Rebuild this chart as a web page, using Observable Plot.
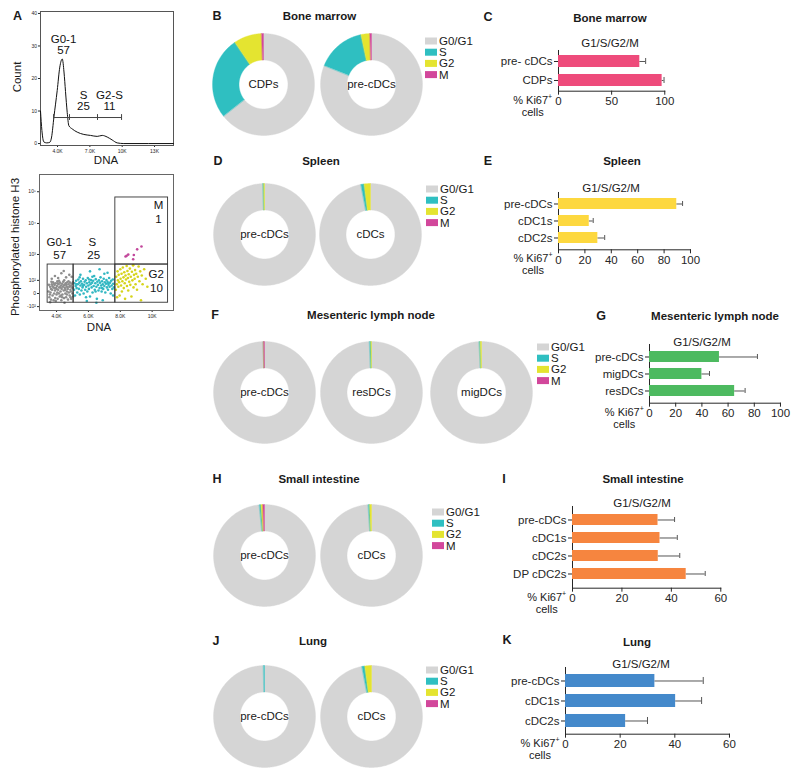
<!DOCTYPE html>
<html><head><meta charset="utf-8">
<script src="https://cdn.jsdelivr.net/npm/d3@7"></script>
<script src="https://cdn.jsdelivr.net/npm/@observablehq/plot@0.6"></script>
<style>
body{margin:0;background:#fff;}
#root{position:relative;width:800px;height:776px;overflow:hidden;background:#fff;font-family:"Liberation Sans",Arial,Helvetica,sans-serif;}
.p{position:absolute;}
</style></head><body><div id="root"></div>
<script>
// ---------------- DATA ----------------
// Panel A (top): DNA histogram
const histDNA   = [2.42, 2.55, 2.73, 3.0, 3.29, 3.45, 3.66, 3.97, 4.21, 4.44, 4.6, 4.74, 4.9, 5.05, 5.36, 5.83, 6.44, 7.06, 7.68, 8.15, 8.61, 9.07, 9.54, 10.15, 14.76];
const histCount = [10, 4, 0.5, 0.2, 0.4, 2, 8, 16.3, 23.5, 26, 22, 16, 9.5, 5.5, 4.5, 3.5, 2.8, 2.5, 2.2, 2.5, 2, 1.1, 0.2, 0, 0];
const histGateNames = ["G0-1","S","G2-S"];
const histGatePct = ["57","25","11"];
const histGateFrom = [3.63, 5.11, 7.71];
const histGateTo   = [5.11, 7.71, 9.94];
const histGateLevel = 8;
const histLabelX = [4.56, 6.41, 8.82];
const histNameY = [32, 14.8, 14.8];
const histPctY = [28.6, 11.4, 11.4];
const histXTicks = [4, 7, 10, 13];
const histXTickLabels = ["4.0K","7.0K","10K","13K"];
const histYTicks = [0, 10, 20, 30, 40];

// Panel A (bottom): DNA vs phosphorylated histone H3
const g01Cells = [[3.5,10],[3.55,-20],[3.6,40],[3.62,5],[3.65,-35],[3.7,60],[3.72,20],[3.75,-10],[3.78,80],[3.8,35],[3.82,-40],[3.85,0],[3.88,55],[3.9,15],[3.92,-25],[3.95,70],[3.97,30],[4.0,-5],[4.02,45],[4.05,90],[4.07,-30],[4.1,20],[4.12,60],[4.15,0],[4.17,35],[4.2,-15],[4.22,75],[4.25,10],[4.27,50],[4.3,-40],[4.32,25],[4.35,65],[4.37,-5],[4.4,40],[4.42,85],[4.45,15],[4.47,-25],[4.5,55],[4.52,30],[4.55,0],[4.57,70],[4.6,-20],[4.62,45],[4.65,10],[4.67,80],[4.7,25],[4.72,-35],[4.75,60],[4.77,5],[4.8,40],[4.82,-10],[4.85,75],[4.87,20],[4.9,50],[4.92,-30],[4.95,35],[4.97,65],[5.0,0],[5.02,30],[5.04,-15],[3.9,160],[4.3,210],[4.6,140],[4.1,130],[4.8,180],[3.7,120],[4.45,260],[4.95,150],[3.6,-55],[4.5,-60],[3.65,25],[3.85,65],[4.05,5],[4.25,35],[4.45,50],[4.65,-5],[4.85,45],[4.15,95],[4.35,-20],[4.55,20],[4.75,90],[3.95,-45],[4.0,25],[4.6,60],[4.9,10],[3.52,55],[3.58,-5],[3.68,85],[3.74,45],[3.87,30],[4.08,70],[4.28,-10],[4.48,100],[4.68,35],[4.88,-20],[5.03,80]];
const sCells = [[5.1,20],[5.13,70],[5.16,-10],[5.2,45],[5.23,95],[5.26,30],[5.3,5],[5.33,60],[5.36,110],[5.4,25],[5.43,75],[5.46,-5],[5.5,50],[5.53,90],[5.56,15],[5.6,65],[5.63,35],[5.66,120],[5.7,0],[5.73,55],[5.76,85],[5.8,20],[5.83,100],[5.86,40],[5.9,70],[5.93,10],[5.96,130],[6.0,50],[6.03,25],[6.06,80],[6.1,-15],[6.13,60],[6.16,105],[6.2,35],[6.23,75],[6.26,5],[6.3,95],[6.33,45],[6.36,160],[6.4,20],[6.43,70],[6.46,115],[6.5,40],[6.53,-30],[6.56,85],[6.6,55],[6.63,15],[6.66,100],[6.7,30],[6.73,75],[6.76,140],[6.8,50],[6.83,10],[6.86,90],[6.9,60],[6.93,25],[6.96,120],[7.0,45],[7.03,80],[7.06,5],[7.1,65],[7.13,105],[7.16,35],[7.2,85],[7.23,20],[7.26,55],[7.3,130],[7.33,40],[7.36,75],[7.4,0],[7.43,95],[7.46,50],[7.5,25],[7.53,110],[7.56,65],[7.6,35],[6.1,250],[6.7,300],[7.2,220],[5.9,-45],[6.5,-60],[7.0,200],[5.5,180],[6.9,-40],[5.25,60],[5.65,45],[6.05,110],[6.45,10],[6.85,30],[7.25,70],[7.55,-10],[5.45,140],[5.85,-20],[6.25,150]];
const g2Cells = [[7.72,20],[7.75,150],[7.78,60],[7.8,-20],[7.83,250],[7.85,100],[7.88,40],[7.9,180],[7.93,80],[7.96,-10],[8.0,300],[8.02,120],[8.05,50],[8.08,200],[8.1,10],[8.13,90],[8.16,350],[8.2,140],[8.22,30],[8.25,230],[8.28,70],[8.3,-30],[8.33,170],[8.36,110],[8.4,400],[8.42,45],[8.45,260],[8.48,130],[8.5,15],[8.53,190],[8.56,85],[8.6,320],[8.63,55],[8.66,150],[8.7,-15],[8.73,240],[8.76,100],[8.8,420],[8.83,35],[8.86,180],[8.9,120],[8.93,280],[8.96,60],[9.0,200],[9.05,20],[9.1,150],[9.15,380],[9.2,90],[9.25,250],[9.3,-40],[9.35,170],[9.4,60],[9.5,300],[9.6,120],[9.7,40],[8.81,430]];
const mCells = [[8.33,860],[8.5,990],[8.85,966],[9.06,1480],[9.33,1840],[8.81,690],[8.4,900]];
const scatterGates = [
  {name:"G0-1", x1:3.44, x2:5.07, y1:-60, y2:450},
  {name:"S",    x1:5.07, x2:7.69, y1:-60, y2:450},
  {name:"G2",   x1:7.69, x2:11.0, y1:-60, y2:450},
  {name:"M",    x1:7.69, x2:11.0, y1:450, y2:66000}
];
const scatterLabels = ["G0-1","57","S","25","M","1","G2","10"];
const scatterLabelX = [4.17, 4.2, 6.24, 6.33, 10.4, 10.4, 10.25, 10.27];
const scatterLabelY = [2470, 927, 2470, 927, 37000, 13100, 181, 32];
const scatterXTicks = [4, 6, 8, 10];
const scatterXTickLabels = ["4.0K","6.0K","8.0K","10K"];
const scatterYTicks = [-100, 0, 100, 1000, 10000, 100000];
const scatterYTickLabels = ["-10²","0","10²","10³","10⁴","10⁵"];

// Donuts: cell-cycle phase percentages
const phases = ["G0/G1","S","G2","M"];
const bmCells = ["CDPs","pre-cDCs"];
const bmPhaseValues = [[64.4,26.1,8.9,0.6],[81.1,15.6,2.8,0.5]];
const spleenCells = ["pre-cDCs","cDCs"];
const spleenPhaseValues = [[99.5,0.25,0.25,0],[97.0,1.0,2.0,0]];
const mlnCells = ["pre-cDCs","resDCs","migDCs"];
const mlnPhaseValues = [[99.65,0.03,0.02,0.3],[99.4,0.4,0.2,0],[99.3,0.3,0.4,0]];
const siCells = ["pre-cDCs","cDCs"];
const siPhaseValues = [[98.4,0.5,0.6,0.5],[99.0,0.4,0.6,0]];
const lungCells = ["pre-cDCs","cDCs"];
const lungPhaseValues = [[99.7,0.3,0,0],[97.0,0.9,2.1,0]];

// Bars: % Ki67+ cells (G1/S/G2/M), mean and SEM
const bmKiCats = ["pre- cDCs","CDPs"];
const bmKi = [76.5, 97.5];
const bmKiSem = [5.5, 1.8];
const bmKiTicks = [0, 50, 100];
const spleenKiCats = ["pre-cDCs","cDC1s","cDC2s"];
const spleenKi = [89.6, 23.3, 29.8];
const spleenKiSem = [4.4, 3.0, 5.2];
const spleenKiTicks = [0, 20, 40, 60, 80, 100];
const mlnKiCats = ["pre-cDCs","migDCs","resDCs"];
const mlnKi = [53.4, 40.0, 65.0];
const mlnKiSem = [29.0, 5.8, 8.0];
const mlnKiTicks = [0, 20, 40, 60, 80, 100];
const siKiCats = ["pre-cDCs","cDC1s","cDC2s","DP cDC2s"];
const siKi = [34.6, 35.4, 34.7, 46.0];
const siKiSem = [6.7, 7.0, 8.7, 7.7];
const siKiTicks = [0, 20, 40, 60];
const lungKiCats = ["pre-cDCs","cDC1s","cDC2s"];
const lungKi = [32.7, 40.3, 22.0];
const lungKiSem = [17.7, 9.5, 8.0];
const lungKiTicks = [0, 20, 40, 60];

// ---------------- STYLE ----------------
const FONT = "Liberation Sans, Arial, Helvetica, sans-serif";
const phaseColors = ["#d5d5d5","#2fbfc1","#e4e430","#d2479b"];
const root = document.getElementById("root");
function place(node, left, top) {
  const d = document.createElement("div");
  d.className = "p"; d.style.left = left + "px"; d.style.top = top + "px";
  d.appendChild(node); root.appendChild(d);
}
const baseStyle = {fontFamily: FONT, fontSize: "11.5px", background: "transparent", color: "#262626", overflow: "visible"};

// ---------------- PANEL A top ----------------
{
  const curve = histDNA.map((x, i) => ({x, y: histCount[i]}));
  const gates = histGateNames.map((n, i) => ({n, p: histGatePct[i], x1: histGateFrom[i], x2: histGateTo[i], lx: histLabelX[i], ny: histNameY[i], py: histPctY[i]}));
  const edges = Array.from(new Set([...histGateFrom, ...histGateTo]));
  const xl = new Map(histXTicks.map((t, i) => [t, histXTickLabels[i]]));
  const p = Plot.plot({
    width: 185, height: 165, marginLeft: 40, marginRight: 12, marginTop: 11, marginBottom: 20,
    style: {...baseStyle, fontSize: "5px"},
    x: {domain: [2.42, 14.76], ticks: histXTicks, tickFormat: d => xl.get(d), tickSize: 2, tickPadding: 1.5, label: null},
    y: {domain: [-0.6, 40.6], ticks: histYTicks, tickSize: 2, tickPadding: 1.5, label: null},
    marks: [
      Plot.frame({stroke: "#555"}),
      Plot.line(curve, {x: "x", y: "y", stroke: "#111", strokeWidth: 1, curve: "monotone-x"}),
      Plot.ruleY(gates, {y: histGateLevel, x1: "x1", x2: "x2", stroke: "#444", strokeWidth: 1}),
      Plot.ruleX(edges, {x: d => d, y1: histGateLevel - 0.9, y2: histGateLevel + 0.9, stroke: "#444"}),
      Plot.text(gates, {x: "lx", y: "ny", text: "n", fontSize: 11.5, fill: "#111"}),
      Plot.text(gates, {x: "lx", y: "py", text: "p", fontSize: 11.5, fill: "#111"})
    ]
  });
  place(p, 0, 0);
}
// ---------------- PANEL A bottom ----------------
{
  const top = 166;
  const yl = new Map(scatterYTicks.map((t, i) => [t, scatterYTickLabels[i]]));
  const xl = new Map(scatterXTicks.map((t, i) => [t, scatterXTickLabels[i]]));
  const labels = scatterLabels.map((t, i) => ({t, x: scatterLabelX[i], y: scatterLabelY[i]}));
  const p = Plot.plot({
    width: 185, height: 174, marginLeft: 39, marginRight: 12, marginTop: 8, marginBottom: 30,
    style: {...baseStyle, fontSize: "5px"},
    x: {domain: [2.93, 11.34], ticks: scatterXTicks, tickFormat: d => xl.get(d), tickSize: 2, tickPadding: 1.5, label: null},
    y: {type: "symlog", constant: 63, domain: [-153, 349000], ticks: scatterYTicks, tickFormat: d => yl.get(d), tickSize: 2, tickPadding: 1.5, label: null},
    marks: [
      Plot.frame({stroke: "#666"}),
      Plot.dot(g01Cells, {x: d => d[0], y: d => d[1], r: 1.3, fill: "#8e8e8e", stroke: "none"}),
      Plot.dot(sCells, {x: d => d[0], y: d => d[1], r: 1.3, fill: "#32b7c2", stroke: "none"}),
      Plot.dot(g2Cells, {x: d => d[0], y: d => d[1], r: 1.3, fill: "#d6d41c", stroke: "none"}),
      Plot.dot(mCells, {x: d => d[0], y: d => d[1], r: 1.3, fill: "#c2479b", stroke: "none"}),
      Plot.rect(scatterGates, {x1: "x1", x2: "x2", y1: "y1", y2: "y2", fill: "none", stroke: "#333", strokeWidth: 0.9}),
      Plot.text(labels, {x: "x", y: "y", text: "t", fontSize: 11.5, fill: "#111"})
    ]
  });
  place(p, 0, top);
}

// ---------------- DONUTS ----------------
const R_OUT = 1, R_IN = 0.48;
function donut(cell, vals, cx, cy) {
  const S = 106;
  const total = d3.sum(vals);
  const pts = [];
  let acc = 0;
  vals.forEach((v, k) => {
    if (v <= 0) return;
    const a0 = acc / total * 360, a1 = (acc + v) / total * 360;
    acc += v;
    const n = Math.max(2, Math.ceil(a1 - a0));
    const rad = j => (a0 + (a1 - a0) * j / n) * Math.PI / 180;
    for (let j = 0; j <= n; j++) pts.push({x: R_OUT * Math.sin(rad(j)), y: R_OUT * Math.cos(rad(j)), phase: phases[k]});
    for (let j = n; j >= 0; j--) pts.push({x: R_IN * Math.sin(rad(j)), y: R_IN * Math.cos(rad(j)), phase: phases[k]});
  });
  const p = Plot.plot({
    width: S, height: S, margin: 0, style: baseStyle,
    x: {domain: [-1.04, 1.04], axis: null},
    y: {domain: [-1.04, 1.04], axis: null},
    color: {domain: phases, range: phaseColors},
    marks: [
      Plot.line(pts, {x: "x", y: "y", z: "phase", fill: "phase", stroke: "phase", strokeWidth: 0.4, curve: "linear-closed"}),
      Plot.text([cell], {x: 0, y: 0, text: d => d, fontSize: 11.5, fill: "#1a1a1a"})
    ]
  });
  place(p, cx - S / 2, cy - S / 2);
}
const donutRows = [
  {cells: bmCells, vals: bmPhaseValues, centers: [[263, 84], [371, 84]]},
  {cells: spleenCells, vals: spleenPhaseValues, centers: [[264, 234], [370, 234]]},
  {cells: mlnCells, vals: mlnPhaseValues, centers: [[264, 392], [371, 392], [481, 392]]},
  {cells: siCells, vals: siPhaseValues, centers: [[264, 555], [371, 555]]},
  {cells: lungCells, vals: lungPhaseValues, centers: [[264, 716], [371, 716]]}
];
donutRows.forEach(r => r.cells.forEach((c, i) => donut(c, r.vals[i], r.centers[i][0], r.centers[i][1])));

// ---------------- BARS ----------------
function bars(cats, vals, sems, color, max, ticks, g) {
  const mL = 100, mR = 16, mT = 3, mB = 24;
  const W = mL + (g.x1 - g.x0) + mR, H = mT + (g.yBot - g.yTop) + mB;
  const data = cats.map((c, i) => ({c, v: vals[i], hi: vals[i] + sems[i]}));
  const p = Plot.plot({
    width: W, height: H, marginLeft: mL, marginRight: mR, marginTop: mT, marginBottom: mB,
    style: {...baseStyle, fontSize: "11.5px"},
    x: {domain: [0, max], ticks, tickSize: 4, tickPadding: 2, line: true, label: null},
    y: {domain: cats, paddingInner: g.pi, paddingOuter: g.po, tickSize: 4, tickPadding: 2, line: true, label: null},
    marks: [
      Plot.ruleY(data, {y: "c", x1: "v", x2: "hi", stroke: "#555", strokeWidth: 1}),
      Plot.barX(data, {x: "v", y: "c", fill: color}),
      Plot.tickX(data, {x: "hi", y: "c", stroke: "#555", strokeWidth: 1, insetTop: 3, insetBottom: 3})
    ]
  });
  place(p, g.x0 - mL, g.yTop - mT);
}
const barGeo = {
  bm:     {x0: 557.7, x1: 664,   yTop: 50,    yBot: 90.7,  pi: 0.375, po: 0.21},
  spleen: {x0: 558,   x1: 690,   yTop: 192,   yBot: 249.3, pi: 0.35,  po: 0.267},
  mln:    {x0: 649.3, x1: 780.3, yTop: 344.3, yBot: 403,   pi: 0.37,  po: 0.36},
  si:     {x0: 571.7, x1: 720,   yTop: 506,   yBot: 587.7, pi: 0.365, po: 0.344},
  lung:   {x0: 565,   x1: 729,   yTop: 667.3, yBot: 734,   pi: 0.35,  po: 0.34}
};
bars(bmKiCats, bmKi, bmKiSem, "#ee4b7b", 100, bmKiTicks, barGeo.bm);
bars(spleenKiCats, spleenKi, spleenKiSem, "#fdd83f", 100, spleenKiTicks, barGeo.spleen);
bars(mlnKiCats, mlnKi, mlnKiSem, "#4dba60", 100, mlnKiTicks, barGeo.mln);
bars(siKiCats, siKi, siKiSem, "#f6853f", 60, siKiTicks, barGeo.si);
bars(lungKiCats, lungKi, lungKiSem, "#4489cb", 60, lungKiTicks, barGeo.lung);

// ---------------- TEXT OVERLAY ----------------
const svg = d3.select(root).append("svg")
  .attr("width", 800).attr("height", 776)
  .style("position", "absolute").style("left", 0).style("top", 0)
  .style("pointer-events", "none").style("font-family", FONT);
function T(str, x, y, o = {}) {
  const t = svg.append("text").attr("x", x).attr("y", y)
    .attr("text-anchor", o.anchor || "middle").attr("dominant-baseline", "central")
    .attr("font-size", o.size || 11.5).attr("fill", "#1a1a1a").text(str);
  if (o.bold) t.attr("font-weight", "bold");
  if (o.rotate) t.attr("transform", `rotate(${o.rotate},${x},${y})`);
  return t;
}
// Panel A labels
T("A", 17.5, 16, {bold: true, size: 12.5});
T("Count", 17, 77, {rotate: -90});
T("DNA", 106, 160);
T("Phosphorylated histone H3", 15, 247, {rotate: -90});
T("DNA", 99, 327);
// Panel letters & titles
const titles = [
  ["B", 217, 16, "Bone marrow", 319.5, 16],
  ["C", 488, 17, "Bone marrow", 610, 18],
  ["D", 218, 161, "Spleen", 321, 161],
  ["E", 488, 161, "Spleen", 622, 161],
  ["F", 215, 315, "Mesenteric lymph node", 371, 315],
  ["G", 601, 316, "Mesenteric lymph node", 715, 316],
  ["H", 217, 479, "Small intestine", 319, 479],
  ["I", 504, 479, "Small intestine", 643, 479],
  ["J", 216, 641, "Lung", 313, 641],
  ["K", 507, 640, "Lung", 637, 642]
];
titles.forEach(([l, lx, ly, t, tx, ty]) => { T(l, lx, ly, {bold: true, size: 12.5}); T(t, tx, ty, {bold: true}); });
// G1/S/G2/M subtitles
[[610, 43], [611, 188], [702, 342], [642, 503], [641, 664]].forEach(([x, y]) => T("G1/S/G2/M", x, y));
// % Ki67+ cells labels
Object.values(barGeo).forEach(g => {
  const t = T("% Ki67", g.x0 - 25, g.yBot + 9, {size: 11});
  t.append("tspan").attr("dy", -4).attr("font-size", 7).text("+");
  T("cells", g.x0 - 25, g.yBot + 21, {size: 11});
});
// Legends
[[425, 41], [426, 189], [537, 347], [432, 512], [426, 670]].forEach(([x, y]) => {
  phases.forEach((ph, i) => {
    const yy = y + i * 11.2;
    svg.append("rect").attr("x", x).attr("y", yy - 3.5).attr("width", 12).attr("height", 7).attr("fill", phaseColors[i]);
    T(ph, x + 14, yy, {anchor: "start"});
  });
});
</script>
</body></html>
